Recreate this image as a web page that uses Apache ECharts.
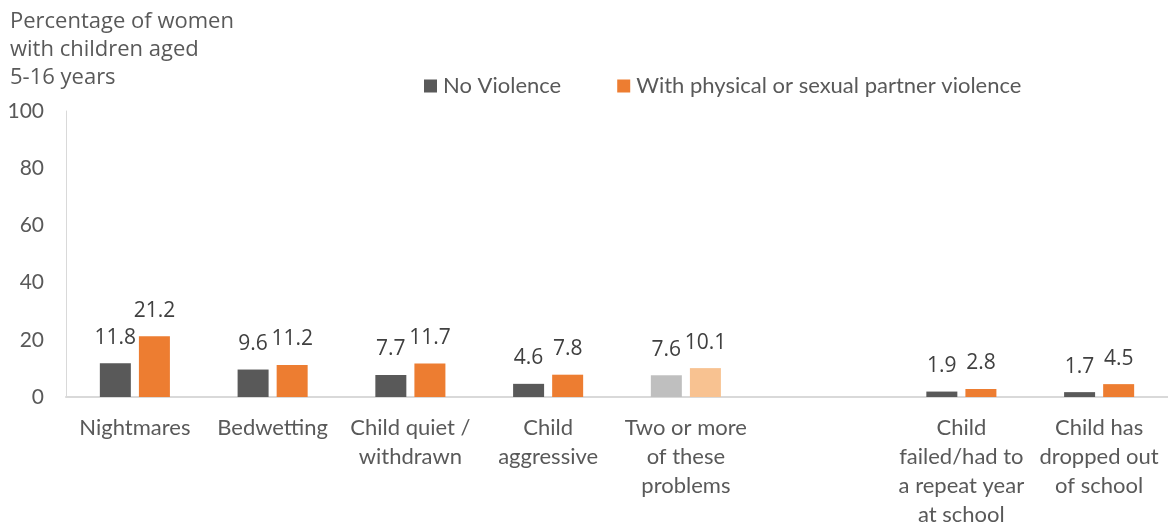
<!DOCTYPE html>
<html><head><meta charset="utf-8">
<script src="https://cdn.jsdelivr.net/npm/echarts@6/dist/echarts.min.js"></script>
<style>html,body{margin:0;padding:0;background:#fff}#c{width:1168px;height:529px}</style>
</head><body><div id="c"></div>
<script>
const categories = ["Nightmares","Bedwetting","Child quiet /\nwithdrawn","Child\naggressive","Two or more\nof these\nproblems","","Child\nfailed/had to\na repeat year\nat school","Child has\ndropped out\nof school"];
const noViolence = [11.8, 9.6, 7.7, 4.6, 7.6, null, 1.9, 1.7];
const withViolence = [21.2, 11.2, 11.7, 7.8, 10.1, null, 2.8, 4.5];
const seriesNames = ["No Violence", "With physical or sexual partner violence"];
const yTitle = "Percentage of women\nwith children aged\n5-16 years";
const highlightIndex = 4;

const FONT = "Lato";
const TXT = "#595959";
function mk(vals, light){
  return vals.map((v,i)=> v==null ? '-' : (i===highlightIndex ? {value:v,itemStyle:{color:light}} : v));
}
const chart = echarts.init(document.getElementById('c'));
chart.setOption({
  animation:false,
  textStyle:{fontFamily:FONT},
  title:{text:yTitle,left:10,top:8,padding:0,textStyle:{fontFamily:"Open Sans",fontSize:22,fontWeight:'normal',color:TXT,lineHeight:28}},
  legend:{top:70,left:419,itemWidth:13,itemHeight:13,itemGap:56,icon:'rect',
    textStyle:{fontFamily:FONT,fontSize:22,color:TXT,padding:[0,0,0,1]},
    data:seriesNames},
  grid:{left:66,right:0,top:111,bottom:131,containLabel:false},
  xAxis:{type:'category',data:categories,
    axisLine:{lineStyle:{color:'#D9D9D9',width:2}},axisTick:{show:false},
    axisLabel:{interval:0,fontFamily:FONT,fontSize:22,color:TXT,lineHeight:29,margin:16}},
  yAxis:{type:'value',min:0,max:100,interval:20,
    axisLine:{show:true,lineStyle:{color:'#D9D9D9',width:1}},axisTick:{show:false},
    splitLine:{show:false},
    axisLabel:{fontFamily:FONT,fontSize:21,color:TXT,margin:22}},
  series:[
    {name:seriesNames[0],type:'bar',data:mk(noViolence,'#BFBFBF'),itemStyle:{color:'#595959'},
     barWidth:31,barGap:'26%',
     label:{show:true,position:'top',distance:15,fontFamily:"Open Sans",fontSize:21,color:'#404040'}},
    {name:seriesNames[1],type:'bar',data:mk(withViolence,'#F8C291'),itemStyle:{color:'#ED7D31'},
     barWidth:31,
     label:{show:true,position:'top',distance:15,fontFamily:"Open Sans",fontSize:21,color:'#404040'}}
  ]
});
</script></body></html>
